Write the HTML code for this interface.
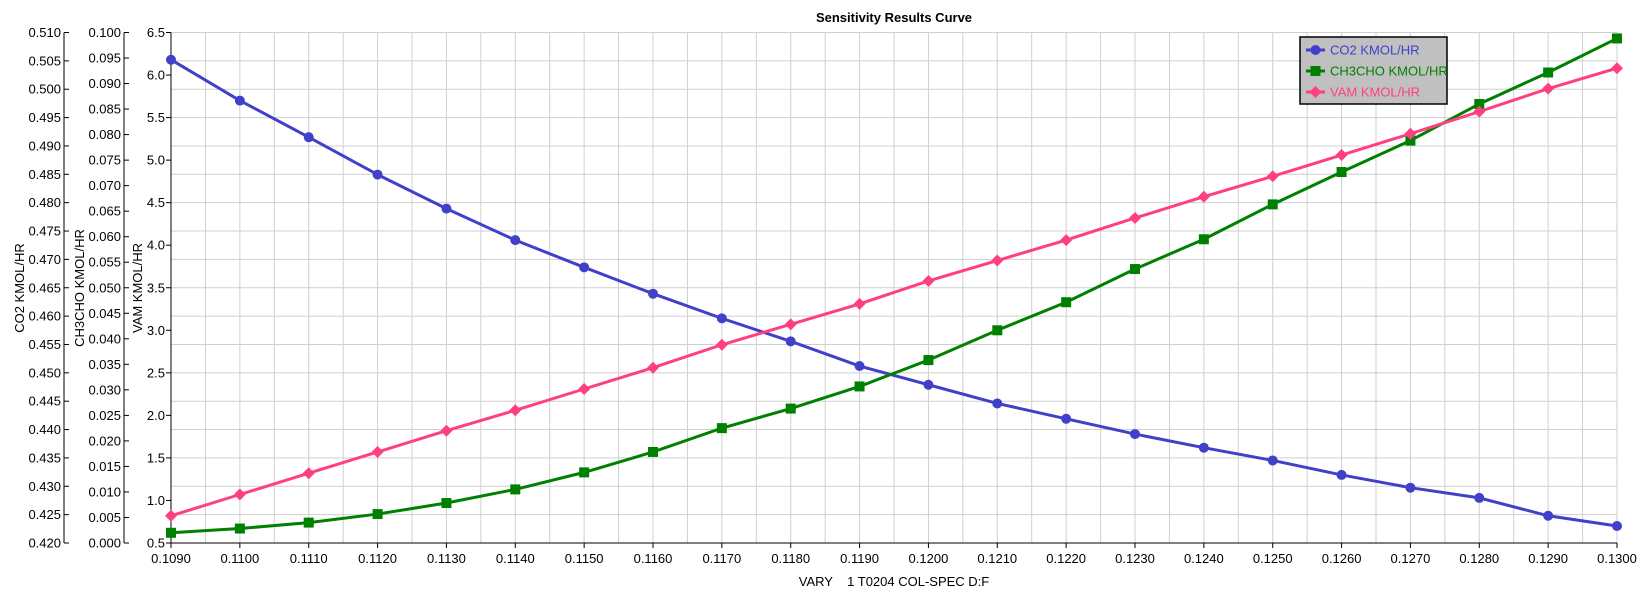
<!DOCTYPE html>
<html><head><meta charset="utf-8"><style>
body{margin:0;background:#fff;}
svg{display:block;font-family:"Liberation Sans",sans-serif;}
</style></head><body>
<svg id="s" width="1647" height="592" xmlns="http://www.w3.org/2000/svg"></svg>
<script>
const L=171,R=1617,T=32.5,B=543;
const n=21, dx=(R-L)/n;
const yV=v=>B-(v-0.5)/6*(B-T);
let h='';
// grid
for(let i=0;i<=42;i++){const x=L+i*(R-L)/42;h+=`<line x1="${x}" y1="${T}" x2="${x}" y2="${B}" stroke="#cfcfcf" stroke-width="1"/>`;}
for(let i=0;i<=18;i++){const y=T+i*(B-T)/18;h+=`<line x1="${L}" y1="${y}" x2="${R}" y2="${y}" stroke="#cfcfcf" stroke-width="1"/>`;}
// axes
h+=`<line x1="${L}" y1="${T}" x2="${L}" y2="${B}" stroke="#000"/><line x1="${L}" y1="${B}" x2="${R}" y2="${B}" stroke="#000"/>`;
h+=`<line x1="64" y1="${T}" x2="64" y2="${B}" stroke="#000"/><line x1="124" y1="${T}" x2="124" y2="${B}" stroke="#000"/>`;
// CO2 axis
for(let i=0;i<=18;i++){const y=B-i*(B-T)/18;h+=`<line x1="64" y1="${y}" x2="69" y2="${y}" stroke="#000"/><text x="61" y="${y+4.5}" font-size="13" text-anchor="end">${(0.42+i*0.005).toFixed(3)}</text>`;}
for(let i=0;i<=20;i++){const y=B-i*(B-T)/20;h+=`<line x1="124" y1="${y}" x2="129" y2="${y}" stroke="#000"/><text x="121" y="${y+4.5}" font-size="13" text-anchor="end">${(i*0.005).toFixed(3)}</text>`;}
for(let i=0;i<=12;i++){const y=B-i*(B-T)/12;h+=`<line x1="${L-5}" y1="${y}" x2="${L}" y2="${y}" stroke="#000"/><text x="165" y="${y+4.5}" font-size="13" text-anchor="end">${(0.5+i*0.5).toFixed(1)}</text>`;}
for(let i=0;i<=n;i++){const x=L+i*dx;h+=`<line x1="${x}" y1="${B}" x2="${x}" y2="${B+5}" stroke="#000"/><text x="${x}" y="563" font-size="13" text-anchor="middle">${(0.109+i*0.001).toFixed(4)}</text>`;}
h+=`<text transform="translate(24,288) rotate(-90)" font-size="13" text-anchor="middle">CO2 KMOL/HR</text>`;
h+=`<text transform="translate(84,288) rotate(-90)" font-size="13" text-anchor="middle">CH3CHO KMOL/HR</text>`;
h+=`<text transform="translate(142,288) rotate(-90)" font-size="13" text-anchor="middle">VAM KMOL/HR</text>`;
h+=`<text x="894" y="586" font-size="13" text-anchor="middle" xml:space="preserve">VARY    1 T0204 COL-SPEC D:F</text>`;
h+=`<text x="894" y="22" font-size="13" font-weight="bold" text-anchor="middle">Sensitivity Results Curve</text>`;
const blue=[6.18,5.70,5.27,4.83,4.43,4.06,3.74,3.43,3.14,2.87,2.58,2.36,2.14,1.96,1.78,1.62,1.47,1.30,1.15,1.03,0.82,0.70];
const green=[0.62,0.67,0.74,0.84,0.97,1.13,1.33,1.57,1.85,2.08,2.34,2.65,3.00,3.33,3.72,4.07,4.48,4.86,5.23,5.66,6.03,6.43];
const pink=[0.82,1.07,1.32,1.57,1.82,2.06,2.31,2.56,2.83,3.07,3.31,3.58,3.82,4.06,4.32,4.57,4.81,5.06,5.31,5.57,5.84,6.08];
function series(d,c,m){let p=d.map((v,i)=>`${L+i*dx},${yV(v)}`).join(' ');
h+=`<polyline points="${p}" fill="none" stroke="${c}" stroke-width="3"/>`;
d.forEach((v,i)=>{const x=L+i*dx,y=yV(v);h+=mk(x,y,c,m);});}
function mk(x,y,c,m){if(m=='c')return `<circle cx="${x}" cy="${y}" r="5" fill="${c}"/>`;
if(m=='s')return `<rect x="${x-5}" y="${y-5}" width="10" height="10" fill="${c}"/>`;
return `<polygon points="${x},${y-6} ${x+6},${y} ${x},${y+6} ${x-6},${y}" fill="${c}"/>`;}
series(blue,'#4040c8','c');series(green,'#008000','s');series(pink,'#ff4080','d');
// legend
h+=`<rect x="1300" y="37" width="147" height="67" fill="#c0c0c0" stroke="#000" stroke-width="1.5"/>`;
[['CO2 KMOL/HR','#4040c8','c',50],['CH3CHO KMOL/HR','#008000','s',71],['VAM KMOL/HR','#ff4080','d',92]].forEach(([t,c,m,y])=>{
h+=`<line x1="1306" y1="${y}" x2="1325" y2="${y}" stroke="${c}" stroke-width="3"/>`+mk(1315.5,y,c,m)+`<text x="1330" y="${y+4.5}" font-size="13" fill="${c}">${t}</text>`;});
document.getElementById('s').innerHTML=h;
</script>
</body></html>
